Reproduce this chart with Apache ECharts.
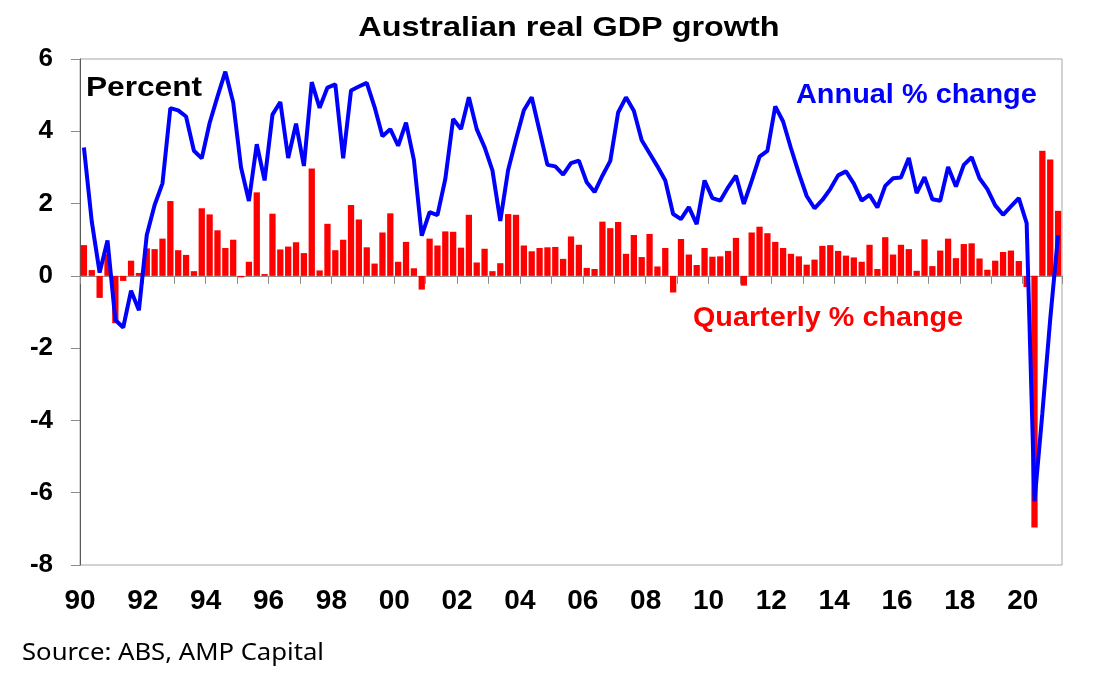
<!DOCTYPE html>
<html>
<head>
<meta charset="utf-8">
<script src="https://cdn.jsdelivr.net/npm/echarts@6/dist/echarts.min.js"></script>
<style>
  html, body { margin: 0; padding: 0; background: #fff; }
  #chart { width: 1107px; height: 674px; }
</style>
</head>
<body>
<div id="chart"></div>
<script>
// quarters 1990 Q1 .. 2021 Q1
const quarters = [];
for (let y = 1990; y <= 2021; y++) {
  for (let q = 1; q <= 4; q++) {
    if (y === 2021 && q > 1) break;
    quarters.push(y + ' Q' + q);
  }
}

// quarterly % change (red bars)
const quarterly = [
  0.85, 0.16, -0.61, 0.6, -1.31, -0.14, 0.42, 0.08, 0.76, 0.74,
  1.03, 2.07, 0.71, 0.58, 0.13, 1.87, 1.70, 1.26, 0.77, 1.0,
  -0.04, 0.39, 2.31, 0.05, 1.72, 0.73, 0.81, 0.93, 0.63, 2.97,
  0.15, 1.44, 0.71, 1.0, 1.96, 1.56, 0.79, 0.34, 1.2, 1.73,
  0.39, 0.94, 0.21, -0.38, 1.03, 0.84, 1.23, 1.22, 0.78, 1.69,
  0.37, 0.75, 0.13, 0.35, 1.71, 1.69, 0.84, 0.68, 0.77, 0.79,
  0.80, 0.47, 1.09, 0.86, 0.22, 0.19, 1.50, 1.32, 1.49, 0.61,
  1.13, 0.52, 1.16, 0.26, 0.77, -0.46, 1.02, 0.59, 0.30, 0.77,
  0.53, 0.54, 0.69, 1.05, -0.27, 1.20, 1.36, 1.18, 0.94, 0.77,
  0.61, 0.54, 0.31, 0.45, 0.83, 0.85, 0.69, 0.56, 0.51, 0.39,
  0.86, 0.19, 1.07, 0.59, 0.86, 0.74, 0.14, 1.01, 0.27, 0.70,
  1.03, 0.49, 0.88, 0.90, 0.48, 0.17, 0.42, 0.66, 0.70, 0.41,
  -0.31, -6.96, 3.46, 3.22, 1.80
];

// annual % change (blue line)
const annual = [
  3.55, 1.50, 0.09, 0.98, -1.22, -1.43, -0.41, -0.95, 1.13, 1.96,
  2.56, 4.64, 4.58, 4.41, 3.46, 3.25, 4.23, 4.96, 5.65, 4.80,
  3.00, 2.07, 3.64, 2.64, 4.46, 4.81, 3.26, 4.21, 3.04, 5.36,
  4.65, 5.21, 5.30, 3.25, 5.13, 5.24, 5.34, 4.67, 3.86, 4.06,
  3.60, 4.24, 3.21, 1.11, 1.76, 1.68, 2.68, 4.34, 4.06, 4.94,
  4.06, 3.56, 2.92, 1.52, 2.93, 3.78, 4.58, 4.94, 4.01, 3.07,
  3.03, 2.80, 3.12, 3.19, 2.59, 2.32, 2.77, 3.18, 4.52, 4.94,
  4.57, 3.75, 3.39, 3.03, 2.64, 1.71, 1.57, 1.90, 1.43, 2.64,
  2.15, 2.08, 2.45, 2.77, 1.99, 2.63, 3.30, 3.46, 4.69, 4.27,
  3.53, 2.84, 2.21, 1.87, 2.10, 2.40, 2.78, 2.89, 2.55, 2.08,
  2.24, 1.89, 2.49, 2.70, 2.72, 3.26, 2.29, 2.73, 2.12, 2.08,
  3.01, 2.47, 3.07, 3.28, 2.70, 2.40, 1.95, 1.69, 1.92, 2.15,
  1.46, -6.24, -3.8, -1.2, 1.12
];

// year tick labels on the bottom axis
const yearTicks = [1990, 1992, 1994, 1996, 1998, 2000, 2002, 2004,
  2006, 2008, 2010, 2012, 2014, 2016, 2018, 2020];

const chart = echarts.init(document.getElementById('chart'));

const boldFont = 'Liberation Sans, Arial, sans-serif';

const option = {
  animation: false,
  grid: {
    left: 80, right: 45, top: 59, bottom: 109,
    show: true, borderColor: '#a6a6a6', borderWidth: 1
  },
  xAxis: [
    {
      type: 'category',
      data: quarters,
      position: 'top',
      boundaryGap: true,
      axisLine: { onZero: true, lineStyle: { color: '#8c8c8c', width: 1 } },
      axisTick: { show: true, inside: true, interval: 3, length: 8, lineStyle: { color: '#8c8c8c' } },
      axisLabel: { show: false },
      splitLine: { show: false }
    },
    {
      type: 'value',
      position: 'bottom',
      min: 1990,
      max: 2021.25,
      interval: 2,
      axisLine: { show: false },
      axisTick: { show: false },
      splitLine: { show: false },
      axisLabel: {
        margin: 22,
        color: '#000',
        fontSize: 28,
        fontWeight: 'bold',
        fontFamily: boldFont,
        formatter: v => (yearTicks.indexOf(v) >= 0 ? String(v).slice(2) : '')
      }
    }
  ],
  yAxis: {
    type: 'value',
    min: -8,
    max: 6,
    interval: 2,
    axisLine: { show: true, onZero: false, lineStyle: { color: '#595959', width: 1 } },
    axisTick: { show: true, length: 9, lineStyle: { color: '#8c8c8c' } },
    splitLine: { show: false },
    axisLabel: {
      margin: 27,
      color: '#000',
      fontSize: 26,
      fontWeight: 'bold',
      fontFamily: boldFont
    }
  },
  series: [
    {
      name: 'Quarterly % change',
      type: 'bar',
      xAxisIndex: 0,
      data: quarterly,
      barCategoryGap: '20%',
      itemStyle: { color: '#ff0000' },
      z: 2
    },
    {
      name: 'Annual % change',
      type: 'line',
      xAxisIndex: 0,
      data: annual,
      showSymbol: false,
      lineStyle: { color: '#0000ff', width: 4 },
      itemStyle: { color: '#0000ff' },
      z: 3
    }
  ],
  graphic: [
    {
      type: 'text', x: 569, y: 29, scaleX: 1.2,
      style: {
        text: 'Australian real GDP growth', fill: '#000',
        font: 'bold 27px ' + boldFont,
        textAlign: 'center', textVerticalAlign: 'middle',
        align: 'center', verticalAlign: 'middle'
      }
    },
    {
      type: 'text', x: 86, y: 88, scaleX: 1.13, z: 10,
      style: {
        text: 'Percent', fill: '#000',
        font: 'bold 28px ' + boldFont,
        textAlign: 'left', textVerticalAlign: 'middle',
        align: 'left', verticalAlign: 'middle'
      }
    },
    {
      type: 'text', x: 796, y: 96, scaleX: 1.07, z: 10,
      style: {
        text: 'Annual % change', fill: '#0000ff',
        font: 'bold 27px ' + boldFont,
        textAlign: 'left', textVerticalAlign: 'middle',
        align: 'left', verticalAlign: 'middle'
      }
    },
    {
      type: 'text', x: 693, y: 319, scaleX: 1.065, z: 10,
      style: {
        text: 'Quarterly % change', fill: '#ff0000',
        font: 'bold 27px ' + boldFont,
        textAlign: 'left', textVerticalAlign: 'middle',
        align: 'left', verticalAlign: 'middle'
      }
    },
    {
      type: 'text', x: 22, y: 653, scaleX: 1.07,
      style: {
        text: 'Source: ABS, AMP Capital', fill: '#000',
        font: '24px Noto Sans, sans-serif',
        textAlign: 'left', textVerticalAlign: 'middle',
        align: 'left', verticalAlign: 'middle'
      }
    }
  ]
};

chart.setOption(option);
</script>
</body>
</html>
